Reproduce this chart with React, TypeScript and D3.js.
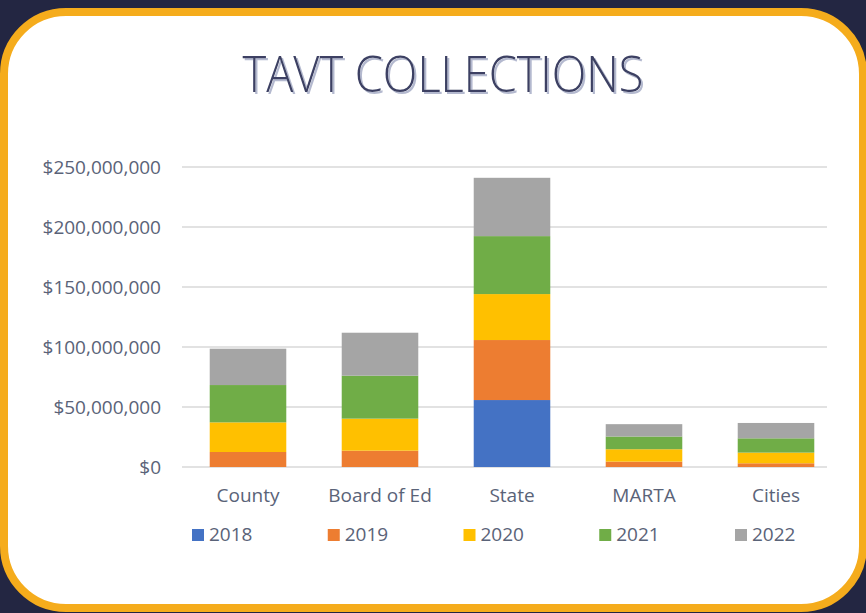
import React from "react";
import * as d3 from "d3";

const categories = ["County", "Board of Ed", "State", "MARTA", "Cities"];
const years = ["2018", "2019", "2020", "2021", "2022"];
const v2018 = [0, 0, 55.8, 0, 0];
const v2019 = [12.5, 13.6, 50.0, 4.5, 3.1];
const v2020 = [24.7, 26.7, 38.3, 10.3, 8.9];
const v2021 = [31.1, 35.8, 48.3, 10.6, 11.9];
const v2022 = [30.3, 35.8, 48.6, 10.3, 12.8];
const seriesValues = [v2018, v2019, v2020, v2021, v2022];
const colors = ["#4472C4", "#ED7D31", "#FFC000", "#70AD47", "#A5A5A5"];
const yTicks = [0, 50, 100, 150, 200, 250];

const W = 866;
const H = 613;

export default function App() {
  const rows = categories.map((c, i) => {
    const r: any = { category: c };
    years.forEach((y, j) => (r[y] = seriesValues[j][i]));
    return r;
  });
  const stack = d3.stack<any>().keys(years)(rows);

  const x = d3.scaleBand().domain(categories).range([182, 842]).paddingInner(0.42).paddingOuter(0.21);
  const y = d3.scaleLinear().domain([0, 250]).range([467, 167]);
  const fmt = (v: number) => "$" + d3.format(",")(v * 1e6);

  const font = "'Open Sans', 'Noto Sans', sans-serif";
  const textColor = "#5a6378";

  const legendX = d3.scalePoint().domain(years).range([192, 735]);

  return (
    <svg
      width={W}
      height={H}
      style={{ position: "absolute", left: 0, top: 0, display: "block" }}
    >
      <defs>
        <filter id="titleShadow" x="-10%" y="-30%" width="120%" height="160%">
          <feDropShadow dx={2} dy={2} stdDeviation={0.6} floodColor="#b4b9cf" floodOpacity={1} />
        </filter>
      </defs>
      <rect x={0} y={0} width={W} height={H} fill="#232642" />
      <rect x={4} y={12} width={859} height={596} rx={62} ry={62} fill="#ffffff" stroke="#F5AC1C" strokeWidth={8} />

      <text
        x={443}
        y={92}
        textAnchor="middle"
        fontFamily={font}
        fontWeight={300}
        fontSize={49}
        fill="#3c4163"
        textLength={401}
        lengthAdjust="spacingAndGlyphs"
        filter="url(#titleShadow)"
      >
        TAVT COLLECTIONS
      </text>

      <g>
        {yTicks.map((t) => (
          <g key={t}>
            <line x1={182} x2={827} y1={y(t)} y2={y(t)} stroke="#d9d9d9" strokeWidth={1.3} />
            <text
              x={161}
              y={y(t)}
              dy="0.35em"
              textAnchor="end"
              fontFamily={font}
              fontSize={19}
              fill={textColor}
            >
              {fmt(t)}
            </text>
          </g>
        ))}
      </g>

      <g>
        {stack.map((s, j) => (
          <g key={years[j]} fill={colors[j]}>
            {s.map((d, i) =>
              d[1] - d[0] > 0 ? (
                <rect
                  key={i}
                  x={x(categories[i])}
                  width={x.bandwidth()}
                  y={y(d[1])}
                  height={y(d[0]) - y(d[1])}
                />
              ) : null
            )}
          </g>
        ))}
      </g>

      <g>
        {categories.map((c) => (
          <text
            key={c}
            x={(x(c) as number) + x.bandwidth() / 2}
            y={502}
            textAnchor="middle"
            fontFamily={font}
            fontSize={19}
            fill={textColor}
          >
            {c}
          </text>
        ))}
      </g>

      <g>
        {years.map((yr, j) => (
          <g key={yr} transform={`translate(${legendX(yr)},0)`}>
            <rect x={0} y={529} width={12} height={12} fill={colors[j]} />
            <text x={17} y={541} fontFamily={font} fontSize={19} fill={textColor}>
              {yr}
            </text>
          </g>
        ))}
      </g>
    </svg>
  );
}
